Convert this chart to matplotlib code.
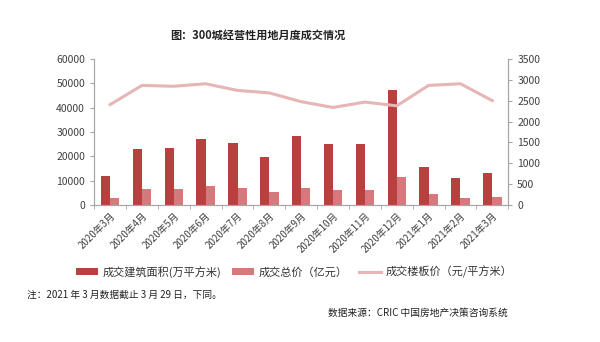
import matplotlib.pyplot as plt
import numpy as np

plt.rcParams['font.family'] = ['Noto Sans CJK SC', 'DejaVu Sans']

months = ['2020年3月', '2020年4月', '2020年5月', '2020年6月', '2020年7月', '2020年8月',
          '2020年9月', '2020年10月', '2020年11月', '2020年12月', '2021年1月', '2021年2月',
          '2021年3月']
area = [11800, 22900, 23600, 27200, 25400, 19900, 28400, 25000, 25000, 47300, 15500, 11100, 13200]
total = [2800, 6700, 6700, 7800, 7100, 5200, 7100, 6000, 6000, 11400, 4500, 3000, 3400]
floor_price = [2410, 2870, 2850, 2910, 2750, 2690, 2480, 2340, 2470, 2380, 2870, 2910, 2505]

dark = '#B8403F'
light = '#D5797C'
pink = '#E6B5B5'
grey = '#A6A6A6'

fig = plt.figure(figsize=(6, 3.42), dpi=100)
ax = fig.add_axes([0.157, 0.4006, 0.69, 0.4264])
ax2 = ax.twinx()

x = np.arange(len(months))
w = 0.29
b1 = ax.bar(x - w / 2, area, w, color=dark, label='成交建筑面积(万平方米)', zorder=2)
b2 = ax.bar(x + w / 2, total, w, color=light, label='成交总价（亿元）', zorder=2)
l1, = ax2.plot(x, floor_price, color=pink, lw=2.2, label='成交楼板价（元/平方米）')

ax.set_xlim(-0.5, len(months) - 0.5)
ax.set_ylim(0, 60000)
ax.set_yticks(range(0, 60001, 10000))
ax2.set_ylim(0, 3500)
ax2.set_yticks(range(0, 3501, 500))

ax.set_xticks(x)
ax.set_xticklabels(months, rotation=45, ha='right', rotation_mode='anchor', fontsize=7, color='#404040')
ax.set_xticks(np.arange(-0.5, len(months), 1), minor=True)
ax.tick_params(axis='x', which='major', length=0, pad=4)
ax.tick_params(axis='x', which='minor', length=3, color=grey)
ax.tick_params(axis='y', labelsize=7.5, colors='#404040', length=3, color=grey)
ax2.tick_params(axis='y', labelsize=7.5, colors='#404040', length=3, color=grey)

for a in (ax, ax2):
    a.spines['top'].set_visible(False)
    for s in ('left', 'right', 'bottom'):
        a.spines[s].set_color(grey)
        a.spines[s].set_linewidth(0.8)

fig.text(0.43, 0.898, '图：300城经营性用地月度成交情况', ha='center', va='center',
         fontsize=8, fontweight='bold', color='#222222')

fig.legend(handles=[b1, b2, l1], loc='center', bbox_to_anchor=(0.49, 0.205), ncol=3,
           frameon=False, fontsize=8, handlelength=2.0, handleheight=0.5,
           columnspacing=1.0, handletextpad=0.4, labelcolor='#333333')

fig.text(0.045, 0.137, '注：2021 年 3 月数据截止 3 月 29 日，下同。', fontsize=7, color='#222222',
         va='center')
fig.text(0.847, 0.085, '数据来源：CRIC 中国房地产决策咨询系统', fontsize=7, color='#222222',
         va='center', ha='right')

fig.savefig('out.png', dpi=100)
